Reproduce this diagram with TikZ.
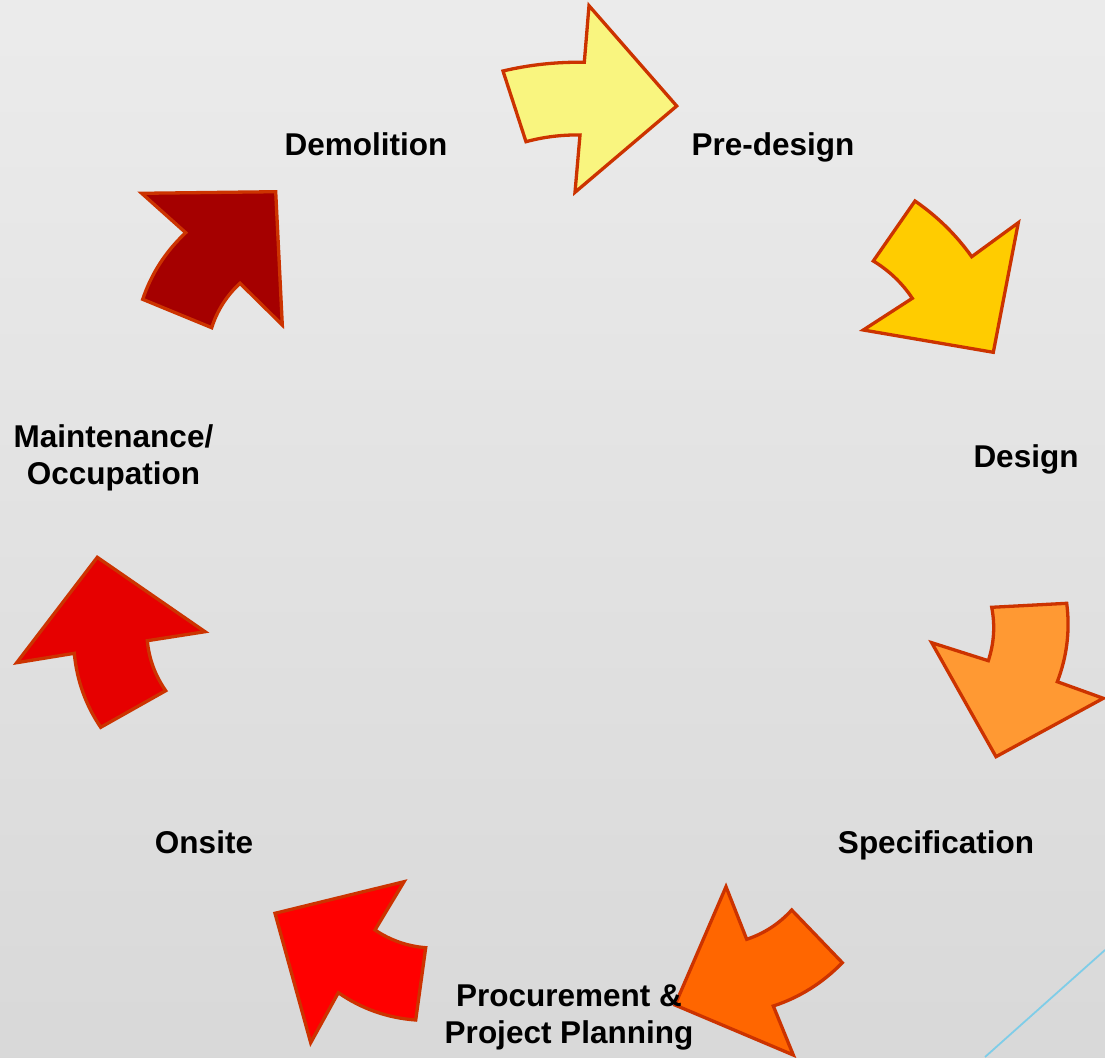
\documentclass[tikz,border=0pt]{standalone}
\usepackage{fontspec}
\setmainfont{Liberation Sans}
\definecolor{bgtop}{HTML}{F5F5F5}
\definecolor{bgbot}{HTML}{CFCFCF}
\definecolor{edgec}{HTML}{CC3300}
\definecolor{cyellow}{HTML}{F9F57F}
\definecolor{cgold}{HTML}{FFCC00}
\definecolor{corange}{HTML}{FF9933}
\definecolor{cdorange}{HTML}{FF6600}
\definecolor{cred}{HTML}{FF0000}
\definecolor{cmred}{HTML}{E60000}
\definecolor{cmaroon}{HTML}{A50000}
\definecolor{cblue}{HTML}{7FCDE8}
\pgfdeclareverticalshading{bgshade}{100bp}{color(0bp)=(bgbot); color(100bp)=(bgtop)}
\tikzset{
  arrowshape/.style={draw=edgec, line width=3.3pt, line join=miter},
  label/.style={font=\bfseries\fontsize{31.5}{37}\selectfont, text=black, align=center, inner sep=0pt},
  onelabel/.style={label, text height=23pt, text depth=0pt}
}
\begin{document}
\begin{tikzpicture}[x=1pt,y=-1pt]
\useasboundingbox (0,0) rectangle (1105,1057);
\shade[shading=bgshade] (0,0) rectangle (1105,1057);
% decorative blue line
\coordinate (bl1) at (985,1057);
\coordinate (bl2) at (1105,950);
\draw[cblue, line width=1.8pt] (bl1) -- (bl2);
% Pre-design arrow (yellow)
\fill[cyellow, arrowshape] (503,71) .. controls (529.7,64.7) and (556.8,61.8) .. (584.3,62.3) -- (589,5.7) -- (676.7,106) -- (575,192.3) -- (580,135) .. controls (561.7,134.7) and (543.7,136.9) .. (526,141.7) -- cycle;
% Design arrow (gold)
\fill[cgold, arrowshape] (915,201) .. controls (937.2,216.3) and (956.1,234.8) .. (971.7,256.7) -- (1018.3,222.7) -- (993.3,352.3) -- (863.3,330) -- (912.3,298.3) .. controls (902.1,283.0) and (889.1,270.6) .. (873.3,261) -- cycle;
% Specification arrow (orange)
\fill[corange, arrowshape] (991.7,607.3) -- (1066.7,603.3) .. controls (1070.2,630.2) and (1067.0,656.4) .. (1057.3,681.7) -- (1103.3,698.3) -- (996,756.7) -- (931.7,642.7) -- (988.3,660.7) .. controls (994.1,643.2) and (995.2,625.4) .. cycle;
% Procurement arrow (dark orange)
\fill[cdorange, arrowshape] (726,886.7) -- (746.7,939.3) .. controls (764.2,933.5) and (779.2,923.7) .. (791.7,910) -- (842.3,962.7) .. controls (822.8,982.8) and (799.8,997.3) .. (773.3,1006) -- (793.3,1055) -- (675,1005) -- cycle;
% Onsite arrow (red)
\fill[cred, arrowshape] (404,881.7) -- (375,930) .. controls (390.4,940.3) and (407.3,946.2) .. (425.7,947.7) -- (415.7,1020) .. controls (387.4,1017.9) and (361.6,1008.8) .. (338.3,992.7) -- (310.7,1042.7) -- (275,913.3) -- cycle;
% Maintenance arrow (medium red)
\fill[cmred, arrowshape] (97.3,557.3) -- (205,631.7) -- (147.3,640.7) .. controls (149.0,659.0) and (155.2,675.6) .. (165.7,690.7) -- (100.7,727.3) .. controls (85.6,704.9) and (76.8,680.2) .. (74.3,653.3) -- (16.7,662.7) -- cycle;
% Demolition arrow (maroon)
\fill[cmaroon, arrowshape] (141.7,193.3) -- (275.7,191.7) -- (282.3,325) -- (240,283.3) .. controls (226.7,295.6) and (217.2,310.4) .. (211.7,327.7) -- (142.7,299.3) .. controls (151.4,273.5) and (165.8,251.3) .. (185.7,232.7) -- cycle;
% labels
\node[onelabel] (demolition) at (366,144) {Demolition};
\node[onelabel] (predesign) at (773,144) {Pre-design};
\node[onelabel] (design) at (1026,456) {Design};
\node[label] (maint) at (113.5,458) {Maintenance/\\Occupation};
\node[onelabel] (spec) at (936,842) {Specification};
\node[onelabel] (onsite) at (204,842) {Onsite};
\node[label] (procure) at (569,1017) {Procurement \&\\Project Planning};
\end{tikzpicture}
\end{document}
